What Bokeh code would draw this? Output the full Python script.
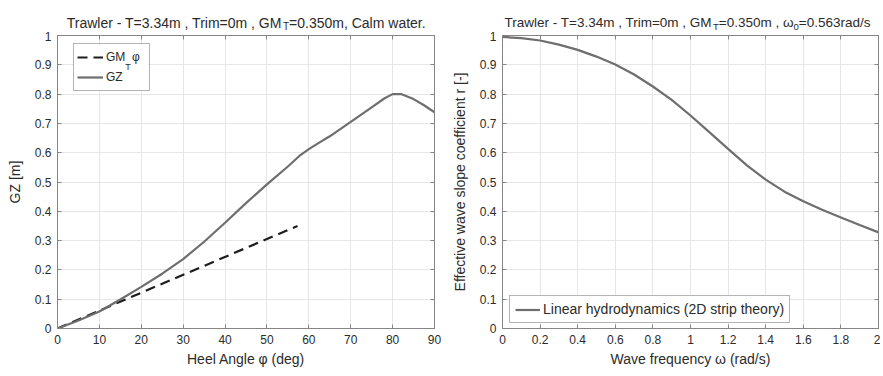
from bokeh.plotting import figure
from bokeh.models import (Range1d, FixedTicker, LinearAxis, Legend, LegendItem,
                          CustomJSTickFormatter, BoxAnnotation)
from bokeh.core.properties import value
from bokeh.layouts import row, column
from bokeh.embed import file_html
from bokeh.resources import INLINE

# ---------------- data ----------------
heel_deg = [0, 5, 10, 15, 20, 25, 30, 35, 40, 45, 50, 55, 58, 60, 62, 65, 70, 75, 78, 80, 82, 85, 87.5, 90]
gz_m = [0, 0.027, 0.058, 0.099, 0.142, 0.187, 0.237, 0.296, 0.361, 0.428, 0.492, 0.553, 0.592, 0.612,
        0.630, 0.656, 0.705, 0.755, 0.785, 0.800, 0.800, 0.783, 0.762, 0.738]
heel_lin_deg = [0, 57.3]
gm_phi_m = [0, 0.35]

omega_rad_s = [0.0, 0.1, 0.2, 0.3, 0.4, 0.5, 0.6, 0.7, 0.8, 0.9, 1.0,
               1.1, 1.2, 1.3, 1.4, 1.5, 1.6, 1.7, 1.8, 1.9, 2.0]
r_eff = [0.995, 0.991, 0.983, 0.969, 0.951, 0.928, 0.901, 0.867, 0.826, 0.780, 0.727,
         0.670, 0.613, 0.557, 0.508, 0.467, 0.434, 0.405, 0.379, 0.353, 0.328]

heel_ticks = [0, 10, 20, 30, 40, 50, 60, 70, 80, 90]
omega_ticks = [0, 0.2, 0.4, 0.6, 0.8, 1, 1.2, 1.4, 1.6, 1.8, 2]
y_ticks = [0, 0.1, 0.2, 0.3, 0.4, 0.5, 0.6, 0.7, 0.8, 0.9, 1]

title_left = ["Trawler - T=3.34m , Trim=0m , GM", "T", "=0.350m, Calm water."]
title_right = ["Trawler - T=3.34m , Trim=0m , GM", "T", "=0.350m , ", "ω", "0", "=0.563rad/s"]

# ---------------- layout / styling ----------------
FONT = "Liberation Sans"
AX = "#858585"
GRID = "#e6e6e6"
TXT = "#2b2b2b"
CURVE = "#6e6e6e"

TITLE_H = 31
FRAME_H = 293
BORDER_TOP = 4
BORDER_BOTTOM = 46
MAIN_H = BORDER_TOP + FRAME_H + BORDER_BOTTOM

W1, BL1, FW1 = 448, 57, 377
W2, BL2, FW2 = 432, 54, 376

AW = {' ': 278, '-': 333, '=': 584, '.': 278, ',': 278, '/': 278, 'T': 611, 'G': 778,
      'M': 833, 'C': 722, 'r': 333, 'a': 556, 'w': 722, 'l': 222, 'e': 556, 'i': 222,
      'm': 833, 'd': 556, 's': 500, 'ω': 781}


def tw(s, size):
    return sum(AW.get(c, 556) for c in s) * size / 1000.0


fmt = CustomJSTickFormatter(code="return String(Math.round(tick*1000)/1000);")


def make_fig(width, bl, fw, xr, xticks, xlabel, ylabel):
    p = figure(width=width, height=MAIN_H, output_backend="svg", toolbar_location=None,
               x_range=Range1d(*xr), y_range=Range1d(0, 1),
               min_border_left=bl, min_border_right=width - bl - fw,
               min_border_top=BORDER_TOP, min_border_bottom=BORDER_BOTTOM)
    p.outline_line_color = AX
    p.outline_line_width = 1
    p.background_fill_color = "white"
    p.border_fill_color = "white"
    p.xaxis.ticker = FixedTicker(ticks=xticks)
    p.yaxis.ticker = FixedTicker(ticks=y_ticks)
    p.xaxis.formatter = fmt
    p.yaxis.formatter = fmt
    p.xaxis.axis_label = xlabel
    p.yaxis.axis_label = ylabel
    for ax in (p.xaxis[0], p.yaxis[0]):
        ax.major_tick_in = 4
        ax.major_tick_out = 0
        ax.minor_tick_line_color = None
        ax.major_tick_line_color = AX
        ax.axis_line_color = AX
        ax.major_label_text_font = FONT
        ax.major_label_text_font_size = "12px"
        ax.major_label_text_color = TXT
        ax.axis_label_text_font = FONT
        ax.axis_label_text_font_size = "14px"
        ax.axis_label_text_font_style = "normal"
        ax.axis_label_text_color = TXT
    p.xaxis.major_label_standoff = 6
    p.xaxis.axis_label_standoff = 4
    p.yaxis.major_label_standoff = 6
    p.yaxis.axis_label_standoff = 9
    # mirrored tick-only axes (top / right), labels not drawn
    for side, tk in (("above", xticks), ("right", y_ticks)):
        a = LinearAxis(ticker=FixedTicker(ticks=tk), major_tick_in=4, major_tick_out=0,
                       minor_tick_line_color=None, major_tick_line_color=AX,
                       axis_line_color=AX, major_label_text_font_size="1px",
                       major_label_text_color=None, major_label_standoff=0)
        p.add_layout(a, side)
    p.xgrid.ticker = FixedTicker(ticks=xticks)
    p.ygrid.ticker = FixedTicker(ticks=y_ticks)
    p.grid.grid_line_color = GRID
    p.grid.grid_line_width = 1
    return p


def make_title(width, bl, fw, center_px, parts, sizes, drops):
    # strip above the plot whose frame is aligned with the plot frame; x in frame pixels
    t = figure(width=width, height=TITLE_H, output_backend="svg", toolbar_location=None,
               x_range=Range1d(0, fw), y_range=Range1d(0, TITLE_H),
               x_axis_location=None, y_axis_location=None,
               min_border_left=bl, min_border_right=width - bl - fw,
               min_border_top=0, min_border_bottom=0)
    t.outline_line_color = None
    t.grid.visible = False
    t.background_fill_color = "white"
    t.border_fill_color = "white"
    widths = [tw(s, z) for s, z in zip(parts, sizes)]
    x0 = center_px - sum(widths) / 2.0
    xs, ys, fs = [], [], []
    for w, z, d in zip(widths, sizes, drops):
        xs.append(x0)
        ys.append(9 - d)
        fs.append(f"{z}px")
        x0 += w
    t.text(x=xs, y=ys, text=parts, text_font=value(FONT), text_font_size=fs,
           text_align="left", text_baseline="alphabetic", text_color=TXT)
    return t


# ---------------- left: GZ curve ----------------
p1 = make_fig(W1, BL1, FW1, (0, 90), heel_ticks, "Heel Angle φ (deg)", "GZ [m]")
r_lin = p1.line(heel_lin_deg, gm_phi_m, line_color="#1e1e1e", line_width=2.2, line_dash="10 6")
r_gz = p1.line(heel_deg, gz_m, line_color=CURVE, line_width=2.2)
LEG_TOP, LEG_LEFT, LEG_PAD, LEG_ROW, LEG_GW, LEG_SO, LEG_LW = 10, 16, 3, 20, 26, 3, 40
LEG_W = 2 * LEG_PAD + LEG_GW + LEG_SO + LEG_LW
LEG_H = 2 * LEG_PAD + 2 * LEG_ROW
# opaque white backing for the legend, drawn beneath the curves/text
p1.add_layout(BoxAnnotation(left=LEG_LEFT * 90 / FW1, right=(LEG_LEFT + LEG_W) * 90 / FW1,
                            top=1 - LEG_TOP / FRAME_H, bottom=1 - (LEG_TOP + LEG_H) / FRAME_H,
                            fill_color="white", fill_alpha=1, line_color=None,
                            level="underlay"))
leg1 = Legend(items=[LegendItem(label="GM  φ", renderers=[r_lin]),
                     LegendItem(label="GZ", renderers=[r_gz])],
              location=(LEG_LEFT, FRAME_H - LEG_TOP - LEG_H),
              margin=0, padding=LEG_PAD, spacing=0,
              glyph_width=LEG_GW, glyph_height=LEG_ROW, label_height=LEG_ROW,
              label_width=LEG_LW, label_standoff=LEG_SO,
              label_text_font=FONT, label_text_font_size="12px", label_text_color=TXT,
              border_line_color="#6a6a6a", border_line_width=1,
              background_fill_alpha=0)
p1.add_layout(leg1)
# subscript T of the legend entry (px from frame top-left -> data)
sub_px_x = LEG_LEFT + LEG_PAD + LEG_GW + LEG_SO + tw("GM", 12) + 0.3
sub_px_y = LEG_TOP + LEG_PAD + LEG_ROW / 2 + 8
p1.text(x=[sub_px_x * 90 / FW1], y=[1 - sub_px_y / FRAME_H], text=["T"],
        text_font=value(FONT), text_font_size="9px", text_baseline="alphabetic",
        text_align="left", text_color=TXT)
t1 = make_title(W1, BL1, FW1, 191, title_left, [14, 10, 14], [0, 4, 0])

# ---------------- right: effective wave slope ----------------
p2 = make_fig(W2, BL2, FW2, (0, 2), omega_ticks, "Wave frequency ω (rad/s)",
              "Effective wave slope coefficient r [-]")
r_r = p2.line(omega_rad_s, r_eff, line_color=CURVE, line_width=2.2)
leg2 = Legend(items=[LegendItem(label="Linear hydrodynamics (2D strip theory)", renderers=[r_r])],
              location=(7, 5), margin=0, padding=5, spacing=0,
              glyph_width=25, glyph_height=15, label_height=15, label_standoff=3,
              label_text_font=FONT, label_text_font_size="14px", label_text_color=TXT,
              border_line_color="#6a6a6a", border_line_width=1,
              background_fill_color="white", background_fill_alpha=1)
p2.add_layout(leg2)
t2 = make_title(W2, BL2, FW2, 185, title_right, [13.5, 9.5, 13.5, 13.5, 9.5, 13.5],
                [0, 4, 0, 0, 4, 0])

layout = row(column(t1, p1), column(t2, p2))
open("out.html", "w").write(file_html(layout, INLINE))
